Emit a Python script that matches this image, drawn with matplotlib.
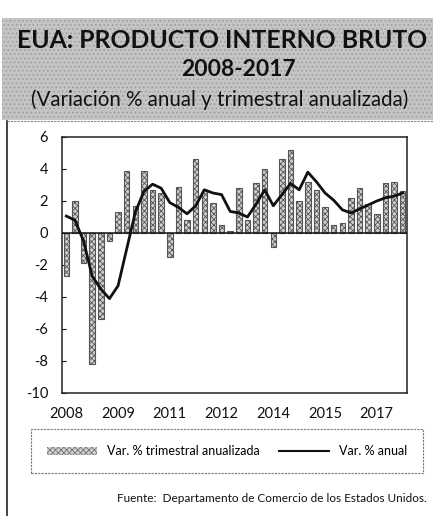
import matplotlib
matplotlib.use("Agg")
import matplotlib.pyplot as plt
from matplotlib.patches import Rectangle, Patch
from matplotlib.lines import Line2D
import numpy as np

plt.rcParams['font.family'] = ['Lato', 'DejaVu Sans']
plt.rcParams['hatch.linewidth'] = 0.6
plt.rcParams['axes.unicode_minus'] = False

# quarters 2008Q1 .. 2017Q4
years = list(range(2008, 2018))
quarters = [f"{y}Q{q}" for y in years for q in range(1, 5)]

# Var. % trimestral anualizada
trimestral = [-2.7, 2.0, -1.9, -8.2,
              -5.4, -0.5, 1.3, 3.9,
              1.7, 3.9, 2.7, 2.5,
              -1.5, 2.9, 0.8, 4.6,
              2.7, 1.9, 0.5, 0.1,
              2.8, 0.8, 3.1, 4.0,
              -0.9, 4.6, 5.2, 2.0,
              3.2, 2.7, 1.6, 0.5,
              0.6, 2.2, 2.8, 1.8,
              1.2, 3.1, 3.2, 2.6]

# Var. % anual
anual = [1.06, 0.8, -0.5, -2.7,
         -3.5, -4.1, -3.3, -1.0,
         1.3, 2.6, 3.05, 2.8,
         1.9, 1.6, 1.2, 1.7,
         2.7, 2.5, 2.4, 1.35,
         1.25, 1.0, 1.8, 2.7,
         1.7, 2.4, 3.1, 2.7,
         3.8, 3.2, 2.5, 2.05,
         1.45, 1.25, 1.5, 1.75,
         2.0, 2.2, 2.3, 2.5]

tick_labels = ["2008", "2009", "2011", "2012", "2014", "2015", "2017"]
tick_every = 6

W, H = 433, 516
fig = plt.figure(figsize=(W / 100, H / 100), dpi=100)

# title block (grainy grey)
fig.patches.append(Rectangle((2 / W, 1 - 120 / H), 431 / W, 102 / H,
                             transform=fig.transFigure, facecolor="#c4c4c4",
                             edgecolor="#9a9a9a", lw=0, hatch="....", zorder=0))
fig.text(222 / W, 1 - 40 / H, "EUA: PRODUCTO INTERNO BRUTO", ha="center", va="center",
         fontsize=17.8, fontweight="bold", color="#111111")
fig.text(238 / W, 1 - 70 / H, "2008-2017", ha="center", va="center",
         fontsize=16.5, fontweight="bold", color="#111111")
fig.text(220 / W, 1 - 100 / H, "(Variación % anual y trimestral anualizada)", ha="center",
         va="center", fontsize=14.8, color="#111111")

# frame lines of the panel
fig.add_artist(Line2D([7 / W, 7 / W], [1 - 121 / H, 0], transform=fig.transFigure,
                      color="#222222", lw=1.2))
fig.add_artist(Line2D([7 / W, 1], [1 - 121 / H, 1 - 121 / H], transform=fig.transFigure,
                      color="#888888", lw=0.8, ls=(0, (2, 1))))

ax = fig.add_axes([62 / W, 1 - 393 / H, 345 / W, 256 / H])
x = np.arange(len(quarters))
ax.bar(x, trimestral, width=0.65, color="#d0d0d0", edgecolor="#555555",
       linewidth=0.8, hatch="xxxxxx", zorder=2)
ax.plot(x, anual, color="#111111", lw=2, zorder=3)
ax.axhline(0, color="#111111", lw=1.1, zorder=4)

ax.set_xlim(-0.5, len(quarters) - 0.5)
ax.set_ylim(-10, 6)
ax.set_yticks(range(-10, 7, 2))
ax.set_xticks(x[::tick_every])
ax.set_xticklabels(tick_labels)
ax.tick_params(axis="x", length=0, pad=10, labelsize=10.5, colors="#111111")
ax.tick_params(axis="y", direction="in", length=3, pad=10, labelsize=10.5, colors="#111111")
for s in ax.spines.values():
    s.set_color("#222222")
    s.set_linewidth(1.1)

# legend box
leg_handles = [Patch(facecolor="#d0d0d0", edgecolor="#777777", hatch="xxxxxx", lw=0),
               Line2D([], [], color="#111111", lw=1.5)]
leg = fig.legend(leg_handles, ["Var. % trimestral anualizada", "Var. % anual"],
                 loc="center", bbox_to_anchor=(227 / W, 1 - 451 / H), ncol=2,
                 fontsize=9, frameon=True, fancybox=False, handlelength=4,
                 handleheight=0.6, columnspacing=1.5, borderpad=1.3)
leg.get_frame().set_edgecolor("#555555")
leg.get_frame().set_linewidth(0.8)
leg.get_frame().set_linestyle((0, (2, 1)))

fig.text(427 / W, 1 - 498 / H, "Fuente:  Departamento de Comercio de los Estados Unidos.",
         ha="right", va="center", fontsize=8.5, color="#111111")

fig.savefig("out.png", dpi=100)
